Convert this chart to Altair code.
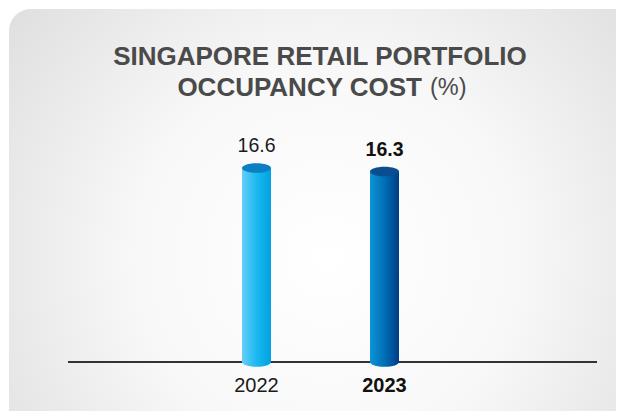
import altair as alt
import pandas as pd

years = ["2022", "2023"]
values = [16.6, 16.3]
title_line1 = "SINGAPORE RETAIL PORTFOLIO"
title_line2_bold = "OCCUPANCY COST"
title_line2_unit = "(%)"

df = pd.DataFrame({"year": years, "value": values, "zero": [0, 0]})

FONT = "Liberation Sans"
W, H = 608, 403

xscale = alt.Scale(type="point", domain=years, range=[248.5, 376.5], padding=0)
yscale = alt.Scale(domain=[0, 30], range=[354, 3.4])

X = alt.X("year:N", scale=xscale, axis=None)
Yv = alt.Y("value:Q", scale=yscale, axis=None)
Y0 = alt.Y("zero:Q", scale=yscale, axis=None)

ELLIPSE = "M -1 0 A 1 0.33 0 1 0 1 0 A 1 0.33 0 1 0 -1 0 Z"

bg = alt.Chart(alt.Data(values=[{}])).mark_rect(
    cornerRadius=22,
    fill=alt.Gradient(
        gradient="radial", x1=0.5, y1=0.55, x2=0.5, y2=0.55, r1=0, r2=0.75,
        stops=[alt.GradientStop(offset=0, color="#ffffff"),
               alt.GradientStop(offset=0.4, color="#f8f8f8"),
               alt.GradientStop(offset=1, color="#d6d6d6")],
    ),
).encode(x=alt.value(1), x2=alt.value(W + 30), y=alt.value(1), y2=alt.value(H + 30))

base = alt.Chart(df)

baseline = base.mark_rule(color="#333333", strokeWidth=2).encode(
    x=alt.value(60), x2=alt.value(589), y=alt.Y("zero:Q", scale=yscale, axis=None)
)

def grad(stops):
    return alt.Gradient(
        gradient="linear", x1=0, y1=0, x2=1, y2=0,
        stops=[alt.GradientStop(offset=o, color=c) for o, c in stops],
    )

styles = {
    "2022": dict(body=[(0, "#66cff7"), (0.5, "#1cb8f0"), (1, "#00a2e2")], top="#0a7fc3"),
    "2023": dict(body=[(0, "#0b95d5"), (0.55, "#006ab2"), (1, "#003d86")], top="#0a4e91"),
}

bar_layers = []
for yr in years:
    s = styles[yr]
    b = base.transform_filter(alt.datum.year == yr)
    bottom = b.mark_point(shape=ELLIPSE, size=841, filled=True, fill=grad(s["body"]),
                          strokeWidth=0, opacity=1).encode(x=X, y=Y0)
    body = b.mark_bar(size=29, fill=grad(s["body"])).encode(x=X, y=Yv, y2=alt.Y2("zero:Q"))
    top = b.mark_point(shape=ELLIPSE, size=841, filled=True, fill=s["top"],
                       strokeWidth=0, opacity=1).encode(x=X, y=Yv)
    bar_layers += [bottom, body, top]

val_2022 = base.transform_filter(alt.datum.year == "2022").mark_text(
    font=FONT, fontSize=19.5, fontWeight="normal", color="#1a1a1a", baseline="middle", dy=-22
).encode(x=X, y=Yv, text=alt.Text("value:Q", format=".1f"))
val_2023 = base.transform_filter(alt.datum.year == "2023").mark_text(
    font=FONT, fontSize=19.5, fontWeight="bold", color="#111111", baseline="middle", dy=-21.5
).encode(x=X, y=Yv, text=alt.Text("value:Q", format=".1f"))

lab_2022 = base.transform_filter(alt.datum.year == "2022").mark_text(
    font=FONT, fontSize=20, fontWeight="normal", color="#1a1a1a", baseline="middle", dy=24
).encode(x=X, y=Y0, text="year:N")
lab_2023 = base.transform_filter(alt.datum.year == "2023").mark_text(
    font=FONT, fontSize=20, fontWeight="bold", color="#111111", baseline="middle", dy=24
).encode(x=X, y=Y0, text="year:N")

tdata = alt.Data(values=[{}])
t1 = alt.Chart(tdata).mark_text(
    text=title_line1, font=FONT, fontSize=26, fontWeight="bold", color="#4a4a4a",
    align="center", baseline="middle"
).encode(x=alt.value(312), y=alt.value(49))
t2 = alt.Chart(tdata).mark_text(
    text=title_line2_bold, font=FONT, fontSize=26, fontWeight="bold", color="#4a4a4a",
    align="right", baseline="middle"
).encode(x=alt.value(414), y=alt.value(80))
t3 = alt.Chart(tdata).mark_text(
    text=title_line2_unit, font=FONT, fontSize=23.5, fontWeight="normal", color="#4a4a4a",
    align="left", baseline="middle"
).encode(x=alt.value(422), y=alt.value(80))

chart = alt.layer(
    bg, baseline, *bar_layers, val_2022, val_2023, lab_2022, lab_2023, t1, t2, t3
).properties(
    width=W, height=H, autosize=alt.AutoSizeParams(type="none"), padding=0,
    background="#ffffff",
).configure_view(stroke=None)

chart.save("out.html", embed_options={"renderer": "svg", "actions": False})
